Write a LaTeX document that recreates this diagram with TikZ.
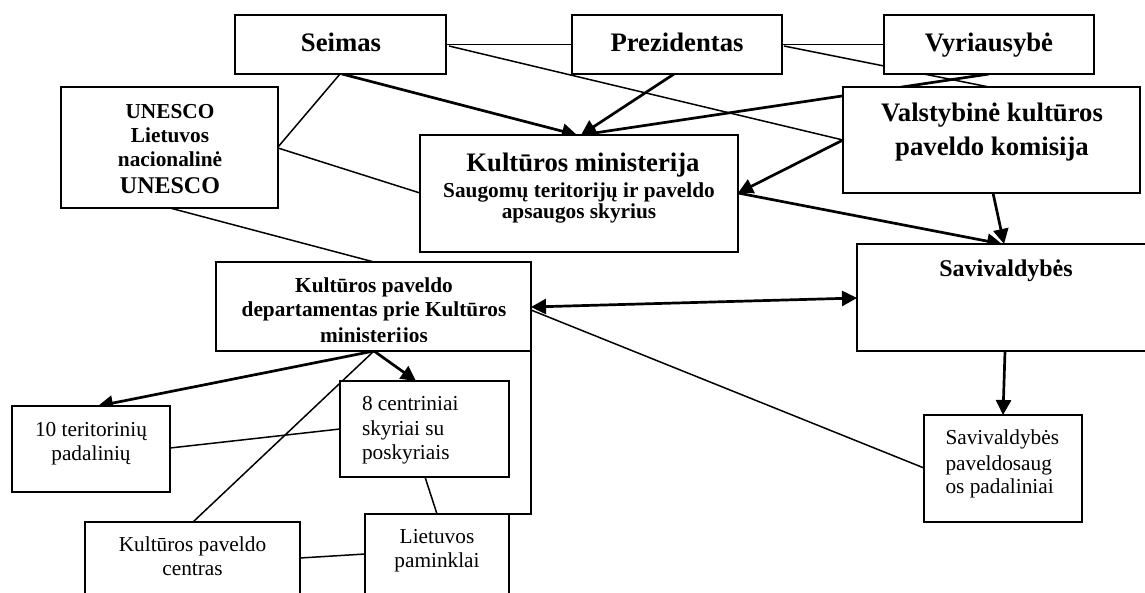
\documentclass[tikz,border=0pt]{standalone}
\usepackage{fontspec}
\setmainfont{Liberation Serif}
\usetikzlibrary{arrows.meta,calc,backgrounds}
\newcommand\fntA{\fontsize{26.7}{30}\selectfont\bfseries}
\newcommand\fntB{\fontsize{24}{27}\selectfont\bfseries}
\newcommand\fntC{\fontsize{21.3}{24}\selectfont\bfseries}
\newcommand\fntR{\fontsize{21.3}{24}\selectfont}
\begin{document}
\begin{tikzpicture}[x=1pt,y=-1pt,
  box/.style={draw,line width=1.9pt,fill=white,inner sep=0pt,outer sep=0pt,anchor=north west},
  txt/.style={inner sep=0pt,outer sep=0pt,anchor=base},
  txtl/.style={inner sep=0pt,outer sep=0pt,anchor=base west},
  link/.style={line width=1.5pt},
  arr/.style={line width=2.7pt,-{Triangle[length=15pt,width=15pt]}},
  darr/.style={line width=2.7pt,{Triangle[length=15pt,width=15pt]}-{Triangle[length=15pt,width=15pt]}}]
\useasboundingbox (0,0) rectangle (1145,592);
% boxes
\node[box,minimum width=211pt,minimum height=59pt] (seimas) at (235,15) {};
\node[box,minimum width=210pt,minimum height=59pt] (prez) at (572,15) {};
\node[box,minimum width=210pt,minimum height=59pt] (vyr) at (884,15) {};
\node[box,minimum width=217pt,minimum height=121pt] (unesco) at (61,87) {};
\node[box,minimum width=318pt,minimum height=117pt] (km) at (420,135) {};
\node[box,minimum width=297pt,minimum height=106pt] (vk) at (843,87) {};
\node[box,minimum width=315pt,minimum height=89pt] (dept) at (216,262) {};
\node[box,minimum width=303pt,minimum height=107pt] (sav) at (857,244) {};
\node[box,minimum width=158pt,minimum height=86pt] (ter) at (12,406) {};
\node[box,minimum width=169pt,minimum height=96pt] (cent) at (340,381) {};
\node[box,minimum width=158pt,minimum height=107pt] (pad) at (924,415) {};
\node[box,minimum width=215pt,minimum height=90pt] (kpc) at (85,522) {};
\node[box,minimum width=144pt,minimum height=98pt] (lp) at (365,514) {};
% texts
\node[txt,font=\fntA] (t1) at (341,51.5) {Seimas};
\node[txt,font=\fntA] (t2) at (677,51.5) {Prezidentas};
\node[txt,font=\fntA] (t3) at (989,51.5) {Vyriausybė};
\node[txt,font=\fntC] (u1) at (170,118) {UNESCO};
\node[txt,font=\fntC] (u2) at (170,142.7) {Lietuvos};
\node[txt,font=\fntC] (u3) at (170,166.7) {nacionalinė};
\node[txt,font=\fntB] (u4) at (170,193.3) {UNESCO};
\node[txt,font=\fntA] (k1) at (583,171.5) {Kultūros ministerija};
\node[txt,font=\fntC] (k2) at (579,197.3) {Saugomų teritorijų ir paveldo};
\node[txt,font=\fntC] (k3) at (579,218.5) {apsaugos skyrius};
\node[txt,font=\fntA] (v1) at (992,121.7) {Valstybinė kultūros};
\node[txt,font=\fntA] (v2) at (992,155) {paveldo komisija};
\node[txt,font=\fntC] (d1) at (374,292) {Kultūros paveldo};
\node[txt,font=\fntC] (d2) at (374,316) {departamentas prie Kultūros};
\begin{scope}
\clip (dept.north west) rectangle ($(dept.south east)+(0,-10)$);
\node[txt,font=\fntC] (d3) at (374,342.5) {ministerijos};
\end{scope}
\node[txt,font=\fntB] (s1) at (1006,276.7) {Savivaldybės};
\node[txt,font=\fntR] (r1) at (91,436.7) {10 teritorinių};
\node[txt,font=\fntR] (r2) at (91,460) {padalinių};
\node[txtl,font=\fntR] (c1) at (362,410.7) {8 centriniai};
\node[txtl,font=\fntR] (c2) at (362,435) {skyriai su};
\node[txtl,font=\fntR] (c3) at (362,459) {poskyriais};
\node[txt,font=\fntR] (p1) at (192.5,551.7) {Kultūros paveldo};
\node[txt,font=\fntR] (p2) at (192.5,575) {centras};
\node[txt,font=\fntR] (l1) at (437,543.3) {Lietuvos};
\node[txt,font=\fntR] (l2) at (437,567.3) {paminklai};
\node[txtl,font=\fntR] (a1) at (945.5,444) {Savivaldybės};
\node[txtl,font=\fntR] (a2) at (945.5,470) {paveldosaug};
\node[txtl,font=\fntR] (a3) at (945.5,493.3) {os padaliniai};
% connectors
\begin{scope}[on background layer]
\fill[white] (0,0) rectangle (1145,592);
\draw[link] (seimas.east) -- (prez.west);
\draw[link] (prez.east) -- (vyr.west);
\draw[link] ($(seimas.north east)+(3,31)$) -- ($(vk.north west)+(0,53)$);
\draw[link] ($(prez.north east)+(2,31)$) -- ($(vk.north west)+(146,0)$);
\draw[arr] ($(vyr.south west)+(105,0)$) -- ($(km.north west)+(161,0)$);
\draw[arr] ($(prez.south west)+(102,0)$) -- ($(km.north west)+(161,0)$);
\draw[arr] ($(seimas.south west)+(107,0)$) -- ($(km.north west)+(157,0)$);
\draw[link] ($(seimas.south west)+(105,0)$) -- ($(unesco.north east)+(0,60)$);
\draw[link] ($(unesco.north east)+(0,61)$) -- ($(km.north west)+(0,58)$);
\draw[link] ($(unesco.south west)+(109,0)$) -- ($(dept.north west)+(158,0)$);
\draw[arr] ($(vk.north west)+(0,53)$) -- ($(km.north east)+(0,58)$);
\draw[arr] ($(km.north east)+(0,58)$) -- ($(sav.north west)+(145,0)$);
\draw[arr] ($(vk.south west)+(150,0)$) -- ($(sav.north west)+(147,0)$);
\draw[darr] ($(dept.north east)+(0,45)$) -- ($(sav.north west)+(0,54)$);
\draw[link] ($(dept.north east)+(0,48)$) -- ($(pad.north west)+(0,53)$);
\draw[arr] ($(sav.south west)+(148,0)$) -- ($(pad.north west)+(79,0)$);
\draw[arr] ($(dept.south west)+(158,0)$) -- ($(ter.north west)+(86,0)$);
\draw[arr] ($(dept.south west)+(158,0)$) -- ($(cent.north west)+(76,0)$);
\draw[link] ($(dept.south west)+(158,0)$) -- ($(kpc.north west)+(108,0)$);
\draw[link] ($(ter.north east)+(0,42)$) -- ($(cent.north west)+(0,48)$);
\draw[link] ($(cent.south west)+(85,0)$) -- ($(lp.north west)+(72,0)$);
\draw[link] ($(kpc.north east)+(0,36)$) -- ($(lp.north west)+(0,40)$);
\draw[link] (dept.south east) -- (dept.south east |- lp.north east) -- (lp.north east);
\end{scope}
\end{tikzpicture}
\end{document}
